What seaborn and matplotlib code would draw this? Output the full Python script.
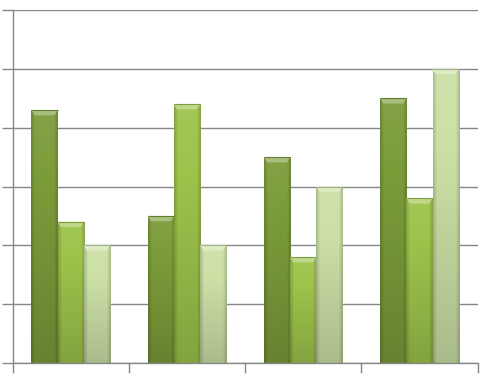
import numpy as np
import pandas as pd
import matplotlib
matplotlib.use("Agg")
import matplotlib.pyplot as plt
import matplotlib.colors as mcolors
import seaborn as sns

categories = ["Category 1", "Category 2", "Category 3", "Category 4"]
series1 = [4.3, 2.5, 3.5, 4.5]
series2 = [2.4, 4.4, 1.8, 2.8]
series3 = [2.0, 2.0, 3.0, 5.0]
series_names = ["Series 1", "Series 2", "Series 3"]
colors = ["#7C9C3A", "#9DC34B", "#CCE0A6"]

rows = []
for name, vals in zip(series_names, [series1, series2, series3]):
    for c, v in zip(categories, vals):
        rows.append({"category": c, "series": name, "value": v})
df = pd.DataFrame(rows)

sns.set_theme(style="white")
fig = plt.figure(figsize=(4.91, 3.84), dpi=100)
ax = fig.add_axes([12.6 / 491, 21 / 384, 465 / 491, 353 / 384])

sns.barplot(data=df, x="category", y="value", hue="series", palette=colors,
            width=0.675, ax=ax, legend=False, saturation=1,
            edgecolor="none", linewidth=0)

ax.set_ylim(0, 6)
ax.set_xlim(-0.5, 3.5)
ax.set_yticks(np.arange(0, 7, 1))
ax.set_xticks([-0.5, 0.5, 1.5, 2.5, 3.5])
ax.set_xticklabels([])
ax.set_yticklabels([])
ax.set_xlabel("")
ax.set_ylabel("")
ax.yaxis.grid(True, color="#868686", linewidth=1)
ax.set_axisbelow(True)
ax.tick_params(axis="y", left=True, length=8, width=1, color="#868686")
ax.tick_params(axis="x", bottom=True, length=7, width=1, color="#868686")
for s in ["top", "right"]:
    ax.spines[s].set_visible(False)
for s in ["left", "bottom"]:
    ax.spines[s].set_color("#868686")
    ax.spines[s].set_linewidth(1)

def shade(c, f):
    r, g, b = mcolors.to_rgb(c)
    if f >= 0:
        return (r + (1 - r) * f, g + (1 - g) * f, b + (1 - b) * f)
    return (r * (1 + f), g * (1 + f), b * (1 + f))

patches = list(ax.patches)
n = len(categories)
for i, p in enumerate(patches):
    base = colors[i // n]
    x0, y0 = p.get_x(), p.get_y()
    w, h = p.get_width(), p.get_height()
    ny, nx = 64, 16
    img = np.zeros((ny, nx, 3))
    for j in range(ny):
        t = j / (ny - 1)  # 0 bottom -> 1 top
        f = -0.16 + 0.22 * t
        img[j, :, :] = np.array(shade(base, f))
    for k in range(nx):
        e = min(k, nx - 1 - k)
        if e == 0:
            img[:, k, :] *= 0.84
        elif e == 1:
            img[:, k, :] *= 0.93
    im = ax.imshow(img, extent=[x0, x0 + w, y0, y0 + h], origin="lower",
                   aspect="auto", zorder=p.get_zorder() + 0.1, interpolation="bilinear")
    im.set_clip_path(p)
    cap = 0.09
    ax.fill([x0, x0 + w, x0 + w * 0.88, x0 + w * 0.12],
            [y0 + h, y0 + h, y0 + h - cap, y0 + h - cap],
            color=shade(base, 0.35), zorder=p.get_zorder() + 0.2, linewidth=0)
    ax.plot([x0, x0 + w], [y0 + h, y0 + h], color=shade(base, -0.2),
            linewidth=0.8, zorder=p.get_zorder() + 0.3, solid_capstyle="butt")

ax.set_xlim(-0.5, 3.5)
ax.set_ylim(0, 6)
fig.savefig("out.png", dpi=100)
